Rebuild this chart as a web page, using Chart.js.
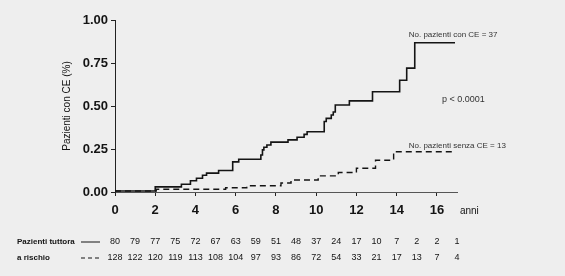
<!DOCTYPE html>
<html>
<head>
<meta charset="utf-8">
<script src="https://cdn.jsdelivr.net/npm/chart.js@4"></script>
<style>
  body { margin: 0; background: #eeeeee; }
  canvas { display: block; }
</style>
</head>
<body>
<canvas id="chart" width="565" height="276"></canvas>
<script>
// curva "con CE" (linea continua)
const conTimes  = [0, 2.0, 3.3, 3.75, 4.05, 4.35, 4.55, 5.15, 5.85, 6.15, 7.25, 7.33, 7.4, 7.55, 7.75, 8.6, 9.05, 9.4, 9.55, 10.4, 10.5, 10.75, 10.85, 10.95, 11.65, 12.8, 14.15, 14.5, 14.9, 16.9];
const conValues = [0.006, 0.03, 0.045, 0.065, 0.08, 0.097, 0.11, 0.125, 0.175, 0.19, 0.215, 0.245, 0.26, 0.273, 0.29, 0.303, 0.318, 0.335, 0.35, 0.41, 0.428, 0.448, 0.465, 0.506, 0.53, 0.583, 0.65, 0.72, 0.868, 0.868];

// curva "senza CE" (linea tratteggiata)
const senzaTimes  = [0, 2.05, 5.5, 6.55, 8.25, 8.75, 10.1, 11.1, 12.0, 12.95, 13.85, 16.8];
const senzaValues = [0.006, 0.016, 0.025, 0.036, 0.052, 0.07, 0.094, 0.113, 0.138, 0.185, 0.234, 0.234];

// pazienti tuttora a rischio, anno 0..17
const riskYears = [0, 1, 2, 3, 4, 5, 6, 7, 8, 9, 10, 11, 12, 13, 14, 15, 16, 17];
const riskCon   = [80, 79, 77, 75, 72, 67, 63, 59, 51, 48, 37, 24, 17, 10, 7, 2, 2, 1];
const riskSenza = [128, 122, 120, 119, 113, 108, 104, 97, 93, 86, 72, 54, 33, 21, 17, 13, 7, 4];

const yTicks = [0, 0.25, 0.5, 0.75, 1];
const xMax = 17;

const ink = "#141414";
const fam = "'Liberation Sans', Arial, sans-serif";

const toPoints = (xs, ys) => xs.map((x, i) => ({ x: x, y: ys[i] }));

// testi extra: annotazioni, "anni", tabella a rischio
const extras = {
    id: "extras",
    beforeDraw(chart) {
        const c = chart.ctx;
        c.save();
        c.fillStyle = "#eeeeee";
        c.fillRect(0, 0, chart.width, chart.height);
        c.restore();
    },
    afterDraw(chart) {
        const c = chart.ctx;
        const xs = chart.scales.x;
        const ys = chart.scales.y;
        c.save();
        c.textBaseline = "middle";

        // annotazioni nel grafico
        c.fillStyle = "#333";
        c.font = "8px " + fam;
        c.textAlign = "left";
        c.fillText("No. pazienti con CE = 37", xs.getPixelForValue(14.6), ys.getPixelForValue(0.913));
        c.fillText("No. pazienti senza CE = 13", xs.getPixelForValue(14.6), ys.getPixelForValue(0.267));
        c.font = "9px " + fam;
        c.fillText("p < 0.0001", xs.getPixelForValue(16.25), ys.getPixelForValue(0.535));

        // "anni" accanto all'asse x
        c.fillStyle = ink;
        c.font = "10px " + fam;
        c.fillText("anni", xs.getPixelForValue(16) + 23, 211);

        // tabella pazienti a rischio
        const row1 = 242, row2 = 258;
        c.font = "bold 8px " + fam;
        c.fillText("Pazienti tuttora", 17, row1);
        c.fillText("a rischio", 17, row2);

        c.strokeStyle = ink;
        c.lineWidth = 1;
        c.beginPath();
        c.moveTo(81, row1);
        c.lineTo(100, row1);
        c.stroke();
        c.setLineDash([4, 3]);
        c.beginPath();
        c.moveTo(81, row2);
        c.lineTo(100, row2);
        c.stroke();
        c.setLineDash([]);

        c.font = "9px " + fam;
        c.textAlign = "center";
        riskYears.forEach((yr, i) => {
            const px = xs.getPixelForValue(yr);
            c.fillText(String(riskCon[i]), px, row1);
            c.fillText(String(riskSenza[i]), px, row2);
        });
        c.restore();
    },
};

const chart = new Chart(document.getElementById("chart"), {
    type: "line",
    data: {
        datasets: [
            {
                label: "con CE",
                data: toPoints(conTimes, conValues),
                borderColor: ink,
                borderWidth: 1.6,
                stepped: true,
                pointRadius: 0,
                fill: false,
            },
            {
                label: "senza CE",
                data: toPoints(senzaTimes, senzaValues),
                borderColor: ink,
                borderWidth: 1.4,
                borderDash: [6, 4],
                stepped: true,
                pointRadius: 0,
                fill: false,
            },
        ],
    },
    options: {
        responsive: false,
        animation: false,
        layout: { padding: { left: 0, right: 108, top: 20, bottom: 0 } },
        plugins: {
            legend: { display: false },
            tooltip: { enabled: false },
        },
        scales: {
            x: {
                type: "linear",
                min: 0,
                max: xMax,
                afterFit: (s) => { s.height = 84; },
                border: { display: true, color: "#555", width: 1 },
                grid: { drawOnChartArea: false, drawTicks: true, tickLength: 4, tickColor: "#222" },
                ticks: {
                    stepSize: 2,
                    includeBounds: false,
                    maxRotation: 0,
                    padding: 7,
                    color: ink,
                    font: { family: fam, size: 13, weight: "bold" },
                },
            },
            y: {
                min: 0,
                max: 1,
                afterFit: (s) => { s.width = 115; },
                afterBuildTicks: (s) => { s.ticks = yTicks.map((v) => ({ value: v })); },
                border: { display: true, color: "#222", width: 1 },
                grid: { drawOnChartArea: false, drawTicks: true, tickLength: 4, tickColor: "#222" },
                title: {
                    display: true,
                    text: "Pazienti con CE (%)",
                    color: ink,
                    padding: { top: 61, bottom: 0 },
                    font: { family: fam, size: 10 },
                },
                ticks: {
                    padding: 3,
                    color: ink,
                    callback: (v) => v.toFixed(2),
                    font: { family: fam, size: 13, weight: "bold" },
                },
            },
        },
    },
    plugins: [extras],
});
</script>
</body>
</html>
